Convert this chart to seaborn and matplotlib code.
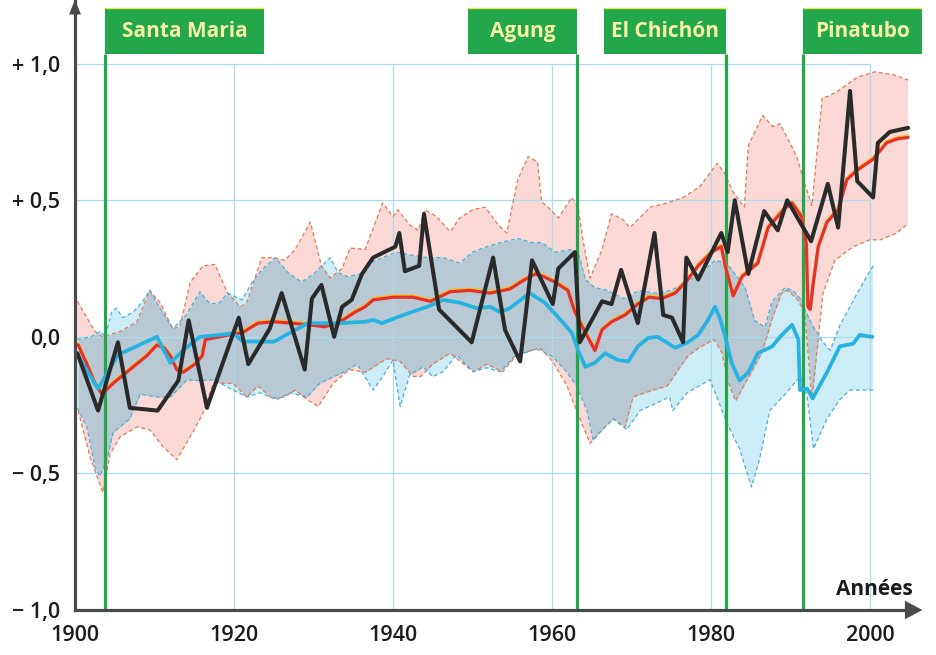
import numpy as np
import matplotlib
matplotlib.use("Agg")
import matplotlib.pyplot as plt
import matplotlib.patheffects as pe
from matplotlib.patches import Rectangle, Polygon
import seaborn as sns

# ---------------------------------------------------------------- data
# observed annual temperature anomaly (black)
obs_years = [1900.3, 1902.9, 1905.4, 1906.9, 1910.4, 1913.0, 1914.3, 1916.6,
             1920.6, 1921.8, 1924.5, 1926.0, 1928.9, 1929.8, 1931.0, 1932.6,
             1933.6, 1934.8, 1936.1, 1937.5, 1940.3, 1940.8, 1941.5, 1943.3,
             1943.9, 1945.8, 1949.9, 1952.6, 1954.1, 1956.0, 1957.5, 1960.1,
             1960.8, 1962.9, 1963.5, 1966.3, 1967.5, 1968.7, 1970.8, 1972.9,
             1974.0, 1975.1, 1976.5, 1976.9, 1978.4, 1981.3, 1982.1, 1983.0,
             1984.7, 1986.7, 1988.4, 1989.6, 1992.6, 1994.7, 1996.0, 1997.5,
             1998.4, 2000.4, 2001.0, 2002.5, 2004.8]
obs_vals = [-0.06, -0.27, -0.02, -0.26, -0.27, -0.16, 0.06, -0.26,
            0.07, -0.10, 0.03, 0.16, -0.12, 0.14, 0.19, 0.00,
            0.11, 0.135, 0.23, 0.29, 0.33, 0.38, 0.24, 0.26,
            0.45, 0.10, -0.02, 0.29, 0.025, -0.09, 0.28, 0.12,
            0.25, 0.31, -0.02, 0.13, 0.12, 0.245, 0.05, 0.38,
            0.08, 0.07, -0.02, 0.29, 0.21, 0.38, 0.31, 0.50,
            0.23, 0.46, 0.39, 0.50, 0.35, 0.56, 0.40, 0.90,
            0.57, 0.51, 0.71, 0.75, 0.765]

# model mean, natural + anthropogenic forcings (red)
all_years = [1900.4, 1901.5, 1902.5, 1903.4, 1904.8, 1906.9, 1909.0, 1910.3,
             1911.2, 1912.0, 1912.8, 1913.6, 1915.1, 1916.0, 1916.4, 1918.2,
             1919.9, 1921.0, 1923.0, 1925.0, 1927.3, 1929.0, 1931.4, 1933.1,
             1935.2, 1936.5, 1937.5, 1940.0, 1942.5, 1944.7, 1947.2, 1949.7,
             1952.2, 1954.7, 1956.6, 1957.9, 1959.0, 1960.4, 1962.0, 1962.9,
             1964.2, 1965.4, 1966.3, 1967.5, 1969.2, 1970.8, 1972.2, 1973.8,
             1975.5, 1977.1, 1978.4, 1980.1, 1981.3, 1981.8, 1982.8, 1983.9,
             1984.7, 1985.9, 1987.2, 1988.4, 1989.3, 1990.2, 1991.4, 1992.0,
             1992.2, 1992.5, 1992.8, 1993.5, 1994.6, 1996.0, 1997.1, 1998.4,
             2000.4, 2002.1, 2003.5, 2004.8]
all_vals = [-0.03, -0.10, -0.17, -0.21, -0.17, -0.12, -0.07, -0.03,
            -0.04, -0.07, -0.12, -0.13, -0.10, -0.07, -0.01, 0.00,
            0.01, 0.014, 0.05, 0.055, 0.05, 0.045, 0.037, 0.05,
            0.09, 0.11, 0.135, 0.145, 0.145, 0.13, 0.165, 0.17,
            0.16, 0.175, 0.21, 0.23, 0.22, 0.20, 0.17, 0.09,
            0.015, -0.05, 0.026, 0.055, 0.08, 0.12, 0.145, 0.14,
            0.16, 0.21, 0.26, 0.31, 0.33, 0.26, 0.15, 0.22,
            0.24, 0.27, 0.40, 0.44, 0.47, 0.49, 0.44, 0.34,
            0.11, 0.10, 0.18, 0.33, 0.42, 0.465, 0.575, 0.61,
            0.65, 0.71, 0.725, 0.73]

# model mean, natural forcings only (blue)
nat_years = [1900.3, 1902.9, 1905.4, 1910.3, 1912.0, 1913.6, 1915.7, 1918.2,
             1919.9, 1921.1, 1925.0, 1927.4, 1929.3, 1933.1, 1936.5, 1937.5,
             1938.6, 1941.3, 1944.3, 1946.3, 1948.4, 1950.5, 1952.2, 1953.5,
             1954.7, 1957.2, 1959.1, 1961.3, 1962.5, 1963.3, 1964.2, 1965.4,
             1966.7, 1968.3, 1969.6, 1970.8, 1972.1, 1973.3, 1975.5, 1977.1,
             1978.4, 1979.6, 1980.5, 1981.1, 1981.8, 1982.6, 1983.6, 1984.7,
             1985.9, 1987.7, 1988.7, 1990.2, 1991.0, 1991.2, 1992.1, 1992.8,
             1994.6, 1996.2, 1997.9, 1998.7, 2000.3]
nat_vals = [-0.066, -0.19, -0.066, 0.0, -0.095, -0.05, 0.0, 0.007,
            0.013, -0.017, -0.018, 0.02, 0.05, 0.05, 0.055, 0.062,
            0.05, 0.08, 0.11, 0.135, 0.125, 0.105, 0.11, 0.09,
            0.105, 0.16, 0.125, 0.055, 0.015, -0.05, -0.11, -0.095,
            -0.06, -0.085, -0.09, -0.035, -0.004, 0.0, -0.04, -0.02,
            0.007, 0.06, 0.11, 0.07, 0.0, -0.095, -0.16, -0.13,
            -0.06, -0.035, 0.0, 0.044, -0.01, -0.195, -0.19, -0.225,
            -0.13, -0.035, -0.025, 0.007, 0.0]

# spread of the natural + anthropogenic runs (pink band)
all_hi_years = [1900.3, 1902.5, 1903.5, 1905.7, 1907.8, 1909.4, 1910.7, 1912.3,
                1913.2, 1914.5, 1916.1, 1917.6, 1919.2, 1920.8, 1921.6, 1923.5,
                1924.9, 1926.4, 1927.7, 1929.6, 1930.4, 1931.0, 1932.1, 1933.6,
                1934.6, 1936.5, 1938.7, 1940.0, 1940.6, 1942.1, 1943.2, 1944.0,
                1945.5, 1947.2, 1948.4, 1950.0, 1951.6, 1953.1, 1954.3, 1955.7,
                1957.0, 1958.2, 1958.7, 1959.5, 1960.8, 1962.5, 1963.3, 1963.9,
                1964.8, 1966.3, 1967.5, 1968.9, 1969.8, 1972.4, 1974.5, 1976.5,
                1978.6, 1980.8, 1981.7, 1982.8, 1984.2, 1984.7, 1986.5, 1987.8,
                1988.7, 1990.8, 1991.8, 1992.7, 1994.0, 1994.7, 1996.0, 1998.4,
                2000.6, 2002.9, 2004.8]
all_hi_vals = [0.13, 0.02, 0.0, 0.02, 0.055, 0.17, 0.125, 0.03,
               0.037, 0.20, 0.26, 0.265, 0.16, 0.11, 0.125, 0.29,
               0.29, 0.28, 0.32, 0.42, 0.33, 0.26, 0.215, 0.25,
               0.325, 0.32, 0.49, 0.44, 0.465, 0.41, 0.39, 0.465,
               0.44, 0.385, 0.435, 0.465, 0.475, 0.415, 0.38, 0.575,
               0.66, 0.64, 0.495, 0.475, 0.435, 0.51, 0.475, 0.355,
               0.215, 0.32, 0.45, 0.43, 0.40, 0.475, 0.49, 0.51,
               0.55, 0.635, 0.60, 0.53, 0.475, 0.70, 0.81, 0.77,
               0.78, 0.66, 0.56, 0.48, 0.875, 0.88, 0.90, 0.95,
               0.97, 0.96, 0.94]
all_lo_years = [1900.4, 1901.9, 1903.5, 1904.4, 1905.7, 1907.8, 1909.4, 1911.0,
                1912.8, 1914.8, 1916.1, 1917.4, 1919.9, 1921.6, 1923.0, 1924.8,
                1926.4, 1927.7, 1929.2, 1930.6, 1932.5, 1934.5, 1936.5, 1939.2,
                1940.9, 1942.5, 1943.5, 1945.0, 1947.2, 1950.1, 1951.8, 1953.8,
                1955.6, 1957.6, 1958.5, 1960.1, 1961.9, 1963.1, 1964.8, 1966.0,
                1967.7, 1969.2, 1970.2, 1972.7, 1974.5, 1977.1, 1978.5, 1980.4,
                1981.4, 1982.1, 1983.1, 1984.4, 1986.4, 1987.8, 1988.9, 1989.6,
                1990.8, 1991.8, 1992.7, 1994.1, 1995.6, 1997.9, 2000.0, 2001.3,
                2003.4, 2004.8]
all_lo_vals = [-0.27, -0.44, -0.57, -0.43, -0.365, -0.33, -0.34, -0.40,
               -0.45, -0.35, -0.28, -0.17, -0.17, -0.22, -0.18, -0.225,
               -0.22, -0.195, -0.23, -0.255, -0.17, -0.12, -0.13, -0.08,
               -0.09, -0.145, -0.145, -0.10, -0.06, -0.128, -0.10, -0.128,
               -0.066, -0.048, -0.04, -0.09, -0.18, -0.27, -0.39, -0.35,
               -0.30, -0.33, -0.22, -0.195, -0.18, -0.07, -0.04, -0.01,
               -0.06, -0.16, -0.235, -0.165, -0.06, 0.075, 0.16, 0.17,
               0.14, 0.09, -0.23, 0.16, 0.28, 0.33, 0.355, 0.355,
               0.38, 0.415]

# spread of the natural-only runs (blue band)
nat_hi_years = [1900.3, 1902.0, 1903.2, 1903.8, 1904.6, 1905.2, 1906.0, 1907.3,
                1908.4, 1909.4, 1911.0, 1912.3, 1914.0, 1915.7, 1917.0, 1918.2,
                1919.2, 1921.0, 1922.3, 1923.5, 1925.2, 1926.8, 1928.5, 1930.2,
                1932.1, 1933.1, 1934.3, 1936.5, 1937.1, 1938.7, 1940.5, 1942.1,
                1944.3, 1946.3, 1948.4, 1950.0, 1951.8, 1953.5, 1955.7, 1957.5,
                1958.7, 1960.4, 1962.5, 1963.3, 1964.2, 1965.4, 1967.0, 1969.0,
                1971.0, 1973.0, 1975.0, 1977.0, 1979.0, 1980.5, 1982.0, 1984.3,
                1985.5, 1986.8, 1987.7, 1989.3, 1990.3, 1991.4, 1991.8, 1992.8,
                1994.1, 1995.0, 1996.2, 1998.4, 2000.4]
nat_hi_vals = [-0.01, 0.0, 0.02, 0.0, 0.09, 0.105, 0.07, 0.09,
               0.125, 0.17, 0.09, 0.03, 0.08, 0.165, 0.12, 0.125,
               0.16, 0.135, 0.20, 0.245, 0.29, 0.235, 0.20, 0.235,
               0.29, 0.235, 0.22, 0.235, 0.27, 0.29, 0.31, 0.30,
               0.29, 0.29, 0.27, 0.31, 0.33, 0.345, 0.36, 0.345,
               0.345, 0.31, 0.32, 0.31, 0.21, 0.18, 0.17, 0.14,
               0.17, 0.16, 0.17, 0.20, 0.24, 0.28, 0.27, 0.18,
               0.06, 0.035, 0.13, 0.18, 0.17, 0.135, 0.10, 0.04,
               -0.02, -0.05, 0.04, 0.16, 0.26]
nat_lo_years = [1900.3, 1901.5, 1902.5, 1903.1, 1904.0, 1904.8, 1906.9, 1908.2,
                1910.3, 1912.0, 1914.1, 1915.5, 1917.4, 1919.9, 1921.6, 1923.3,
                1925.4, 1927.0, 1929.2, 1930.8, 1933.7, 1935.5, 1937.5, 1938.7,
                1940.0, 1940.9, 1942.1, 1943.8, 1945.0, 1946.3, 1948.0, 1950.1,
                1951.8, 1953.5, 1955.2, 1957.6, 1958.5, 1960.1, 1961.9, 1963.1,
                1964.4, 1965.2, 1966.0, 1967.7, 1969.4, 1971.1, 1974.8, 1975.2,
                1977.0, 1979.9, 1982.0, 1983.6, 1985.1, 1986.1, 1987.4, 1989.5,
                1991.2, 1992.1, 1992.9, 1994.6, 1996.2, 1997.5, 2000.4]
nat_lo_vals = [-0.26, -0.33, -0.475, -0.51, -0.45, -0.35, -0.30, -0.21,
               -0.22, -0.22, -0.157, -0.16, -0.157, -0.195, -0.22, -0.205,
               -0.23, -0.205, -0.22, -0.17, -0.13, -0.10, -0.195, -0.146,
               -0.085, -0.255, -0.14, -0.11, -0.146, -0.128, -0.066, -0.128,
               -0.113, -0.128, -0.073, -0.048, -0.048, -0.073, -0.13, -0.18,
               -0.27, -0.38, -0.35, -0.30, -0.34, -0.27, -0.22, -0.27,
               -0.205, -0.157, -0.315, -0.41, -0.55, -0.45, -0.27, -0.205,
               -0.145, -0.22, -0.41, -0.30, -0.23, -0.195, -0.195]

# major eruptions
volcano_names = ["Santa Maria", "Agung", "El Chichón", "Pinatubo"]
volcano_years = [1903.8, 1963.1, 1981.9, 1991.6]

y_ticks = [-1.0, -0.5, 0.0, 0.5, 1.0]
y_tick_labels = ["\u2212 1,0", "\u2212 0,5", "0,0", "+ 0,5", "+ 1,0"]
x_ticks = [1900, 1920, 1940, 1960, 1980, 2000]
x_tick_labels = ["1900", "1920", "1940", "1960", "1980", "2000"]
x_axis_title = "Années"

# ---------------------------------------------------------------- style
C_BLACK = "#2a2a2a"
C_RED = "#e8302b"
C_BLUE = "#27b2e2"
C_PINK = "#f9d8d6"
C_CYAN = "#ccedf5"
C_OVER = "#b9c9d3"
C_PINK_EDGE = "#e27a55"
C_CYAN_EDGE = "#4eafd6"
C_GRID = "#a9dcec"
C_AXIS = "#4a4a4a"
C_GREEN = "#24a64b"
C_LABEL = "#f6f2a4"

sns.set_theme(style="white")
plt.rcParams["font.family"] = ["Open Sans", "DejaVu Sans"]

fig = plt.figure(figsize=(9.37, 6.55), dpi=100)
fig.patch.set_facecolor("white")
ax = fig.add_axes([75 / 937, 45 / 655, 845 / 937, 610 / 655])
ax.set_facecolor("white")
X0, X1 = 1900, 2006.3
Y0, Y1 = -1.0, 1.233
ax.set_xlim(X0, X1)
ax.set_ylim(Y0, Y1)

# ---------------------------------------------------------------- bands
ax.fill(np.r_[all_hi_years, all_lo_years[::-1]], np.r_[all_hi_vals, all_lo_vals[::-1]],
        color=C_PINK, lw=0, zorder=1)
ax.fill(np.r_[nat_hi_years, nat_lo_years[::-1]], np.r_[nat_hi_vals, nat_lo_vals[::-1]],
        color=C_CYAN, lw=0, zorder=1.1)

# region where both ensembles overlap
start = max(all_hi_years[0], all_lo_years[0], nat_hi_years[0], nat_lo_years[0])
end = min(all_hi_years[-1], all_lo_years[-1], nat_hi_years[-1], nat_lo_years[-1])
grid = np.union1d(np.arange(start, end, 0.02),
                  np.concatenate([all_hi_years, all_lo_years, nat_hi_years, nat_lo_years]))
grid = grid[(grid >= start) & (grid <= end)]
hi = np.minimum(np.interp(grid, all_hi_years, all_hi_vals), np.interp(grid, nat_hi_years, nat_hi_vals))
lo = np.maximum(np.interp(grid, all_lo_years, all_lo_vals), np.interp(grid, nat_lo_years, nat_lo_vals))
ax.fill_between(grid, lo, hi, where=hi > lo, interpolate=True, color=C_OVER, lw=0, zorder=1.2)

# grid
ax.vlines(x_ticks[1:], -1.0, 1.0, color=C_GRID, lw=0.9, zorder=1.5)
ax.hlines([-0.5, 0.0, 0.5, 1.0], 1900, 2000, color=C_GRID, lw=0.9, zorder=1.5)

# dashed band edges
dash = (0, (3.2, 2.2))
for xs, ys in [(all_hi_years, all_hi_vals), (all_lo_years, all_lo_vals)]:
    ax.plot(xs, ys, color=C_PINK_EDGE, lw=0.9, ls=dash, zorder=2)
for xs, ys in [(nat_hi_years, nat_hi_vals), (nat_lo_years, nat_lo_vals)]:
    ax.plot(xs, ys, color=C_CYAN_EDGE, lw=0.9, ls=dash, zorder=2)

# ---------------------------------------------------------------- eruptions
box_w = [20.0, 13.6, 15.4, 15.0]
box_side = ["right", "left", "left", "right"]
box_bottom, box_top = 1.035, 1.205
for name, yr, w, side in zip(volcano_names, volcano_years, box_w, box_side):
    ax.vlines(yr, Y0, box_bottom, color=C_GREEN, lw=2.3, zorder=2.5)
    x_left = yr if side == "right" else yr - w
    ax.add_patch(Rectangle((x_left, box_bottom), w, box_top - box_bottom,
                           facecolor=C_GREEN, edgecolor="none", zorder=6, clip_on=False))
    ax.plot([x_left, x_left + w], [box_top, box_top], color="#e9e64c", lw=1.0,
            zorder=6.1, clip_on=False, solid_capstyle="butt")
    ax.text(x_left + w / 2, (box_bottom + box_top) / 2 - 0.004, name, color=C_LABEL,
            fontsize=15, fontweight="bold", ha="center", va="center",
            zorder=7, clip_on=False)

# ---------------------------------------------------------------- series
sns.lineplot(x=all_years, y=all_vals, color=C_RED, lw=2.3, ax=ax, zorder=3,
             path_effects=[pe.Stroke(linewidth=2.3, foreground="#f2c12e", offset=(0, 0.9)),
                           pe.Normal()])
sns.lineplot(x=nat_years, y=nat_vals, color=C_BLUE, lw=2.7, ax=ax, zorder=3.5)
sns.lineplot(x=obs_years, y=obs_vals, color=C_BLACK, lw=2.9, ax=ax, zorder=4)

# ---------------------------------------------------------------- axes
for s in ["top", "right"]:
    ax.spines[s].set_visible(False)
for s in ["left", "bottom"]:
    ax.spines[s].set_color(C_AXIS)
    ax.spines[s].set_linewidth(2.3)
    ax.spines[s].set_zorder(5)
ax.spines["bottom"].set_bounds(X0, 2004.6)

ax.add_patch(Polygon([[X0 - 0.75, 1.180], [X0 + 0.75, 1.180], [X0, Y1 + 0.002]],
                     closed=True, facecolor=C_AXIS, edgecolor="none", clip_on=False, zorder=5))
ax.add_patch(Polygon([[2004.4, Y0 + 0.034], [2004.4, Y0 - 0.034], [2006.6, Y0]],
                     closed=True, facecolor=C_AXIS, edgecolor="none", clip_on=False, zorder=5))

ax.set_yticks(y_ticks)
ax.set_yticklabels(y_tick_labels)
ax.set_xticks(x_ticks)
ax.set_xticklabels(x_tick_labels)
ax.tick_params(axis="y", length=7, width=1.4, color=C_AXIS, pad=4,
               labelsize=15.5, labelcolor="#1c1c1c")
ax.tick_params(axis="x", length=8, width=1.4, color=C_AXIS, pad=3,
               labelsize=15.5, labelcolor="#1c1c1c")
for lab in ax.get_xticklabels() + ax.get_yticklabels():
    lab.set_fontweight("semibold")
ax.set_xlabel("")
ax.set_ylabel("")
ax.grid(False)

ax.text(2005.4, -0.925, x_axis_title, fontsize=15, fontweight="bold",
        color="#1c1c1c", ha="right", va="center", zorder=7)

fig.savefig("out.png", dpi=100, facecolor="white")
